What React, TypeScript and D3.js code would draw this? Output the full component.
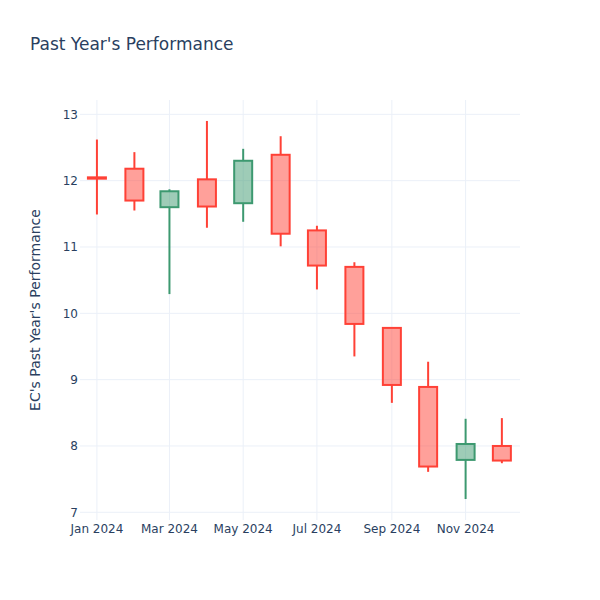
import React from "react";
import * as d3 from "d3";

const dates = ["2024-01-01","2024-02-01","2024-03-01","2024-04-01","2024-05-01","2024-06-01","2024-07-01","2024-08-01","2024-09-01","2024-10-01","2024-11-01","2024-12-01"];
const opens = [12.05, 12.18, 11.60, 12.02, 11.66, 12.39, 11.25, 10.70, 9.78, 8.89, 7.79, 8.00];
const highs = [12.62, 12.43, 11.87, 12.90, 12.48, 12.67, 11.32, 10.77, 9.78, 9.27, 8.41, 8.42];
const lows = [11.49, 11.55, 10.29, 11.29, 11.38, 11.01, 10.36, 9.35, 8.65, 7.61, 7.20, 7.74];
const closes = [12.03, 11.70, 11.84, 11.61, 12.30, 11.20, 10.72, 9.84, 8.92, 7.69, 8.03, 7.78];
const yTicks = [7, 8, 9, 10, 11, 12, 13];
const xTickDates = ["2024-01-01","2024-03-01","2024-05-01","2024-07-01","2024-09-01","2024-11-01"];
const xTickLabels = ["Jan 2024","Mar 2024","May 2024","Jul 2024","Sep 2024","Nov 2024"];

const W = 600, H = 600;
const L = 80, R = 520, T = 100, B = 520;
const INC = "#3D9970", DEC = "#FF4136";
const FONT = "'DejaVu Sans', verdana, arial, sans-serif";
const TXT = "#2a3f5f";
const GRID = "#EBF0F8";

export default function App() {
  const parse = d3.utcParse("%Y-%m-%d");
  const x = d3.scaleUtc()
    .domain([parse("2023-12-18")!, parse("2024-12-16")!])
    .range([L, R]);
  const y = d3.scaleLinear().domain([6.884, 13.216]).range([B, T]);
  const half = 9;

  return (
    <svg width={W} height={H} style={{ display: "block", position: "absolute", left: 0, top: 0, background: "#fff" }}>
      <rect x={0} y={0} width={W} height={H} fill="#fff" />
      {xTickDates.map((d) => (
        <line key={"gx" + d} x1={x(parse(d)!)} x2={x(parse(d)!)} y1={T} y2={B} stroke={GRID} strokeWidth={1} />
      ))}
      {yTicks.map((t) => (
        <line key={"gy" + t} x1={L} x2={R} y1={y(t)} y2={y(t)} stroke={GRID} strokeWidth={1} />
      ))}
      {dates.map((d, i) => {
        const cx = x(parse(d)!);
        const up = closes[i] > opens[i];
        const col = up ? INC : DEC;
        const top = y(Math.max(opens[i], closes[i]));
        const bot = y(Math.min(opens[i], closes[i]));
        return (
          <g key={d}>
            <line x1={cx} x2={cx} y1={y(highs[i])} y2={top} stroke={col} strokeWidth={2} />
            <line x1={cx} x2={cx} y1={bot} y2={y(lows[i])} stroke={col} strokeWidth={2} />
            <rect x={cx - half} y={top} width={2 * half} height={Math.max(bot - top, 0.01)} fill={col} fillOpacity={0.5} stroke={col} strokeWidth={2} />
          </g>
        );
      })}
      {yTicks.map((t) => (
        <text key={"ty" + t} x={78} y={y(t)} dy="0.36em" textAnchor="end" fontFamily={FONT} fontSize={12} fill={TXT}>{t}</text>
      ))}
      {xTickDates.map((d, i) => (
        <text key={"tx" + d} x={x(parse(d)!)} y={533} textAnchor="middle" fontFamily={FONT} fontSize={12} fill={TXT}>{xTickLabels[i]}</text>
      ))}
      <text x={30} y={50} fontFamily={FONT} fontSize={17} fill={TXT}>Past Year's Performance</text>
      <text transform={`translate(40,${(T + B) / 2}) rotate(-90)`} textAnchor="middle" fontFamily={FONT} fontSize={14} fill={TXT}>EC's Past Year's Performance</text>
    </svg>
  );
}
